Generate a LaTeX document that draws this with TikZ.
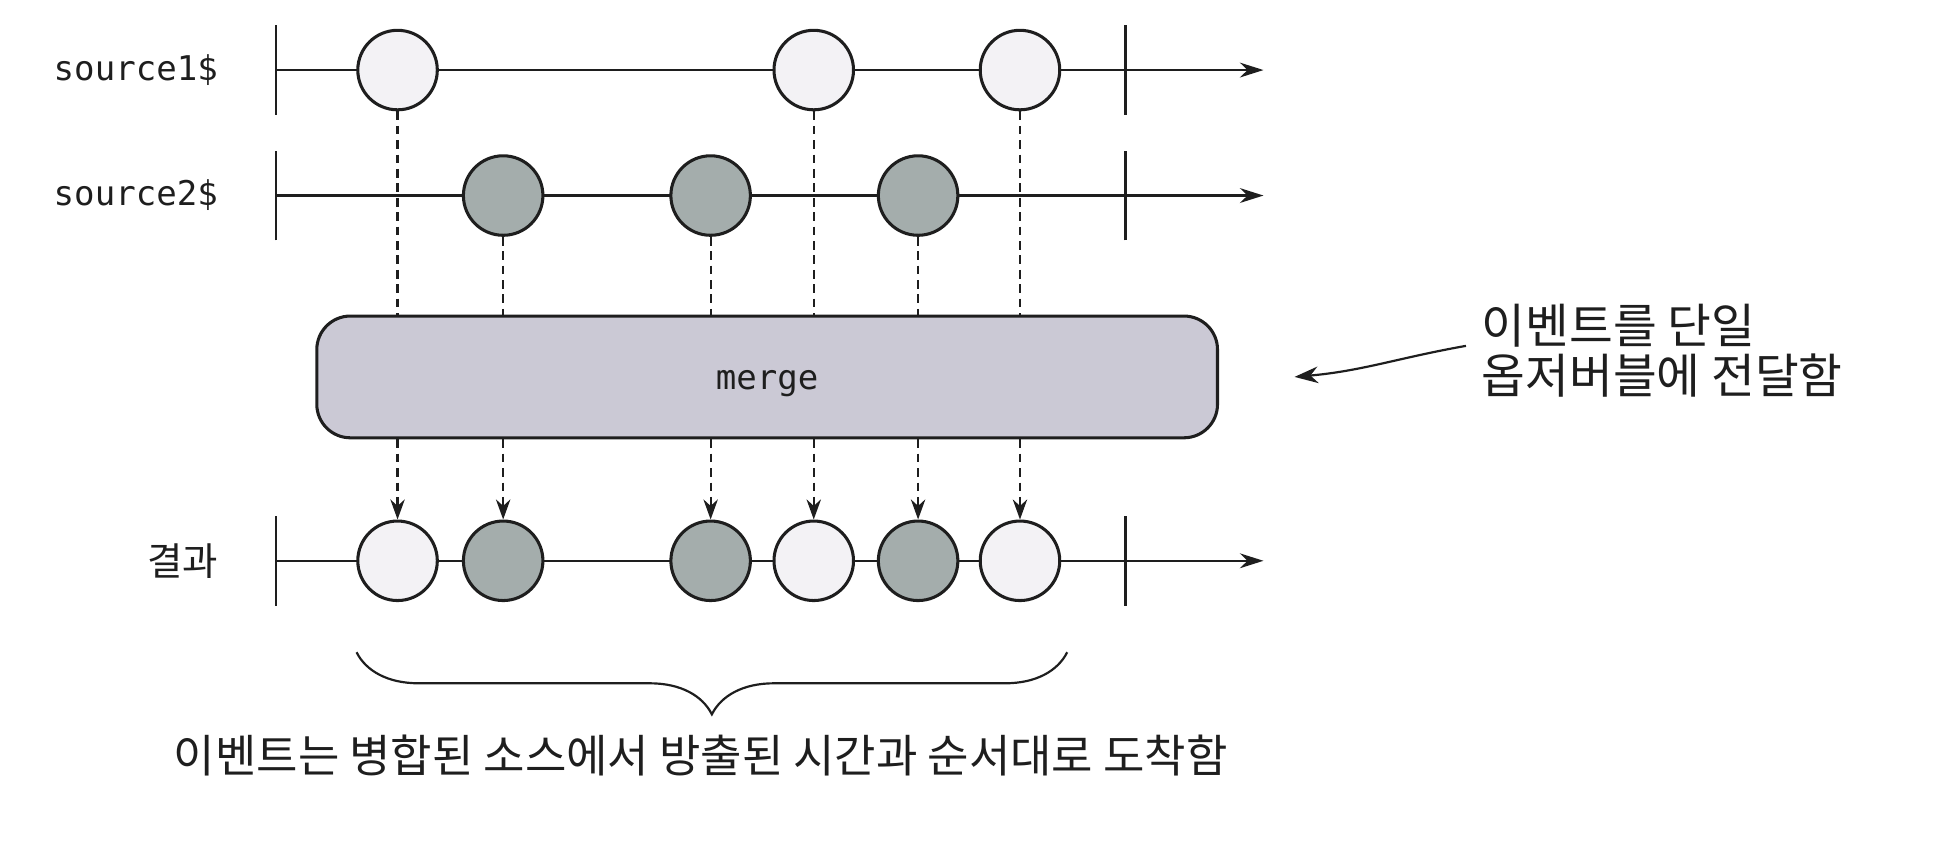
\documentclass[tikz,border=0pt]{standalone}
\usepackage{fontspec}
\newfontfamily\krfont{Noto Sans CJK KR}
\newfontfamily\codefont{DejaVu Sans Mono}
\usetikzlibrary{arrows.meta,decorations.pathreplacing}
\definecolor{ink}{RGB}{30,30,30}
\definecolor{liteball}{RGB}{243,242,245}
\definecolor{darkball}{RGB}{164,173,172}
\definecolor{mergefill}{RGB}{203,201,213}
\begin{document}
\begin{tikzpicture}[
    ball/.style={circle, draw=ink, line width=0.7pt, minimum size=6.4mm, inner sep=0pt},
    lite/.style={ball, fill=liteball},
    dark/.style={ball, fill=darkball},
    axis/.style={draw=ink, line width=0.5pt},
    drop/.style={draw=ink, line width=0.5pt, dash pattern=on 2pt off 1.3pt},
    feed/.style={drop, -{Stealth[length=4.6pt, width=3.3pt]}},
    code/.style={font=\codefont\fontsize{7.8}{9}\selectfont, text=ink},
    kr/.style={font=\krfont\fontsize{#1}{11.4}\selectfont, text=ink},
]
  \useasboundingbox (0,0) rectangle (15.68,6.834);
  \foreach \n/\y in {1/6.27, 2/5.26, 3/2.32} {
    \coordinate (s\n) at (2.22,\y);
    \coordinate (t\n) at (9.06,\y);
    \coordinate (e\n) at (10.17,\y);
    \draw [axis, -{Stealth[length=5.4pt, width=3.4pt]}] (s\n) -- (e\n);
    \draw [axis] ([yshift=-3.6mm]s\n) -- ([yshift=3.6mm]s\n);
    \draw [axis] ([yshift=-3.6mm]t\n) -- ([yshift=3.6mm]t\n);
  }
  \node [code, anchor=east, inner sep=0pt] (lab1) at (1.76,6.27) {source1\$};
  \node [code, anchor=east, inner sep=0pt] (lab2) at (1.76,5.26) {source2\$};
  \node [kr=8.8, anchor=east, inner sep=0pt] (lab3) at (1.76,2.32) {결과};

  \node [lite] (a1) at (3.20,6.27) {};
  \node [lite] (a2) at (6.55,6.27) {};
  \node [lite] (a3) at (8.21,6.27) {};
  \node [dark] (b1) at (4.05,5.26) {};
  \node [dark] (b2) at (5.72,5.26) {};
  \node [dark] (b3) at (7.39,5.26) {};

  \node [draw=ink, line width=0.7pt, fill=mergefill, rounded corners=2.7mm,
         minimum width=7.25cm, minimum height=9.8mm, text height=2.2mm, text depth=0.2mm,
         code] (merge) at (6.175,3.80) {merge};

  \node [lite] (r1) at (3.20,2.32) {};
  \node [dark] (r2) at (4.05,2.32) {};
  \node [dark] (r3) at (5.72,2.32) {};
  \node [lite] (r4) at (6.55,2.32) {};
  \node [dark] (r5) at (7.39,2.32) {};
  \node [lite] (r6) at (8.21,2.32) {};

  \foreach \s in {a1,a2,a3,b1,b2,b3}
    \draw [drop] (\s.south) -- (\s.south |- merge.north);
  \foreach \r in {r1,r2,r3,r4,r5,r6}
    \draw [feed] (merge.south -| \r.north) -- (\r.north);

  \coordinate (bl) at (2.87,1.584);
  \coordinate (br) at (8.59,1.584);
  \draw [ink, line width=0.5pt, decorate, decoration={brace, amplitude=5mm, mirror}] (bl) -- (br);
  \node [kr=10.3] (caption) at (5.64,0.75) {이벤트는 병합된 소스에서 방출된 시간과 순서대로 도착함};

  \node [kr=10.9, align=left, anchor=west, inner sep=0pt] (note) at (11.92,4.01) {이벤트를 단일\\옵저버블에 전달함};
  \coordinate (tip) at (10.42,3.80);
  \draw [ink, line width=0.5pt, -{Stealth[length=5.4pt, width=3.8pt]}]
    ([xshift=-1.2mm, yshift=0.4mm]note.west) to [out=190, in=5] (tip);
\end{tikzpicture}
\end{document}
